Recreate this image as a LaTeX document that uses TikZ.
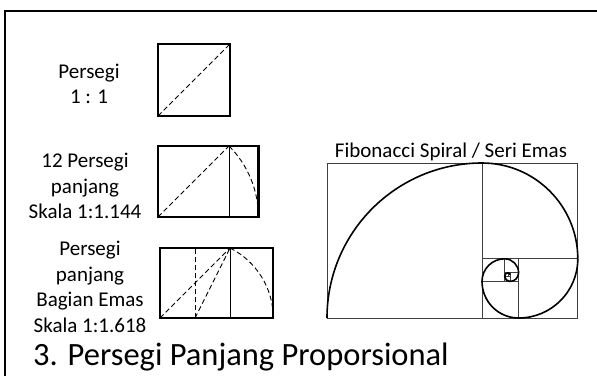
\documentclass[tikz,border=0pt]{standalone}
\usepackage{fontspec}
\setmainfont{Carlito}
\begin{document}
\begin{tikzpicture}[x=1pt,y=1pt,
  box/.style={line width=2.2pt},
  thinline/.style={line width=0.9pt},
  dsh/.style={line width=0.9pt, dash pattern=on 5pt off 3pt},
  lbl/.style={font=\fontsize{21}{25.5}\selectfont, align=center, inner sep=0pt},
  gridline/.style={line width=0.8pt, black!75},
  spiral/.style={line width=1.6pt}]
\useasboundingbox (0,0) rectangle (597,376);
% frame
\draw[line width=1.2pt] (5,0) -- (5,365) -- (597,365);

% square 1:1
\draw[box] (158,260) rectangle (230,332);
\draw[dsh] (158,260) -- (230,332);

% rect 1:1.144
\draw[box] (158,159) rectangle (258.4,230);
\draw[thinline] (229,159) -- (229,230);
\draw[dsh] (158,159) -- (229,230);
\draw[dsh] (229,230) arc[start angle=45, end angle=0, radius=100.4];

% golden rect
\draw[box] (160,58) rectangle (273.3,128);
\draw[thinline] (230,58) -- (230,128);
\draw[dsh] (195,58) -- (195,128);
\draw[dsh] (160,58) -- (230,128);
\draw[dsh] (195,58) -- (230,128);
\draw[dsh] (230,128) arc[start angle=63.43, end angle=0, radius=78.26];

% fibonacci
\draw[gridline] (327,58) rectangle (577.8,213);
\draw[gridline] (482,58) -- (482,213);
\draw[gridline] (482,117.2) -- (577.8,117.2);
\draw[gridline] (518.6,58) -- (518.6,117.2);
\draw[gridline] (482,94.6) -- (518.6,94.6);
\draw[gridline] (504.6,94.6) -- (504.6,117.2);
\draw[gridline] (504.6,103.2) -- (518.6,103.2);
\draw[gridline] (510,94.6) -- (510,103.2);
\draw[gridline] (504.6,100) -- (510,100);
\draw[gridline] (507.9,100) -- (507.9,103.2);
\draw[spiral] (327,58) arc[start angle=180,end angle=90,radius=155]
  arc[start angle=90,end angle=0,radius=95.8]
  arc[start angle=0,end angle=-90,radius=59.2]
  arc[start angle=270,end angle=180,radius=36.6]
  arc[start angle=180,end angle=90,radius=22.6]
  arc[start angle=90,end angle=0,radius=14]
  arc[start angle=0,end angle=-90,radius=8.63]
  arc[start angle=270,end angle=180,radius=5.33]
  arc[start angle=180,end angle=90,radius=3.3]
  arc[start angle=90,end angle=0,radius=2.04];

% labels
\node[lbl] (l1) at (89,292) {Persegi\\1 : 1};
\node[lbl] (l2) at (85,190) {12 Persegi\\panjang\\Skala 1:1.144};
\node[lbl] (l3) at (90,89) {Persegi\\panjang\\Bagian Emas\\Skala 1:1.618};
\node[lbl] (fib) at (451,224) {Fibonacci Spiral / Seri Emas};
\node[font=\fontsize{32.5}{39}\selectfont, anchor=base west, inner sep=0pt] (title) at (33,11) {3. Persegi Panjang Proporsional};
\end{tikzpicture}
\end{document}
